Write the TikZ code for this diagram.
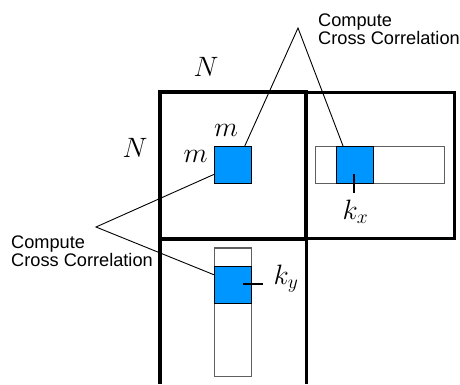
\RequirePackage{fix-cm}
\documentclass[tikz,border=0pt]{standalone}
\usepackage{fontspec}
\newfontfamily\callfont{Liberation Sans}
\definecolor{cblue}{RGB}{0,150,255}
\definecolor{stripgray}{RGB}{95,95,95}
\tikzset{
  bigline/.style={line width=3.3pt, line cap=butt},
  divline/.style={line width=4.5pt, line cap=butt},
  stripbox/.style={draw=stripgray, line width=1.2pt},
  bluebox/.style={draw=black, fill=cblue, line width=1pt, inner sep=0pt, minimum width=37pt, minimum height=37pt},
  calltext/.style={font=\callfont\fontsize{18.2}{17.8}\selectfont, align=left, inner sep=0pt, anchor=north west},
  mathlbl/.style={font=\fontsize{28}{32}\selectfont, inner sep=0pt},
  callline/.style={line width=0.9pt},
  tickline/.style={line width=2.2pt}
}
\begin{document}
\begin{tikzpicture}[x=1pt, y=-1pt]
\useasboundingbox (0,0) rectangle (460,384);
% big grid
\draw[bigline] (160,239) -- (160,92) -- (306,92) -- (306,239);
\draw[bigline, line width=3pt] (306,92) -- (454,92) -- (454,238) -- (306,238);
\draw[divline] (158,239) -- (308,239);
\draw[bigline, line width=4.2pt] (160,239) -- (160,384);
\draw[bigline, line width=3pt] (306,239) -- (306,384);
% strips
\draw[stripbox] (315.7,146.7) rectangle (444.7,183.7);
\draw[stripbox] (214.3,248) rectangle (251.3,376.3);
% blue boxes
\node[bluebox] (sq) at (232.8,165.2) {};
\node[bluebox] (bx) at (355,165.2) {};
\node[bluebox] (by) at (232.8,284.8) {};
% labels
\node[mathlbl] (Ntop) at (206,67) {$N$};
\node[mathlbl] (Nleft) at (135,147.5) {$N$};
\node[mathlbl] (mtop) at (226,130.5) {$m$};
\node[mathlbl] (mleft) at (195.5,156) {$m$};
\node[mathlbl] (kx) at (355.5,212) {$k_x$};
\node[mathlbl] (ky) at (286,279) {$k_y$};
% ticks
\coordinate (kxt) at (354,174);
\coordinate (kxb) at (354,193.3);
\draw[tickline] (kxt) -- (kxb);
\coordinate (kyl) at (243.3,284);
\coordinate (kyr) at (262.7,284);
\draw[tickline] (kyl) -- (kyr);
% callouts
\node[calltext] (ctop) at (318,14) {Compute\\Cross Correlation};
\node[calltext] (cleft) at (11,236) {Compute\\Cross Correlation};
\coordinate (apexT) at (298,28);
\coordinate (apexL) at (96,227);
\draw[callline] (sq.58) -- (apexT) -- (bx.122);
\draw[callline] (sq.206) -- (apexL) -- (by.152);
\end{tikzpicture}
\end{document}
